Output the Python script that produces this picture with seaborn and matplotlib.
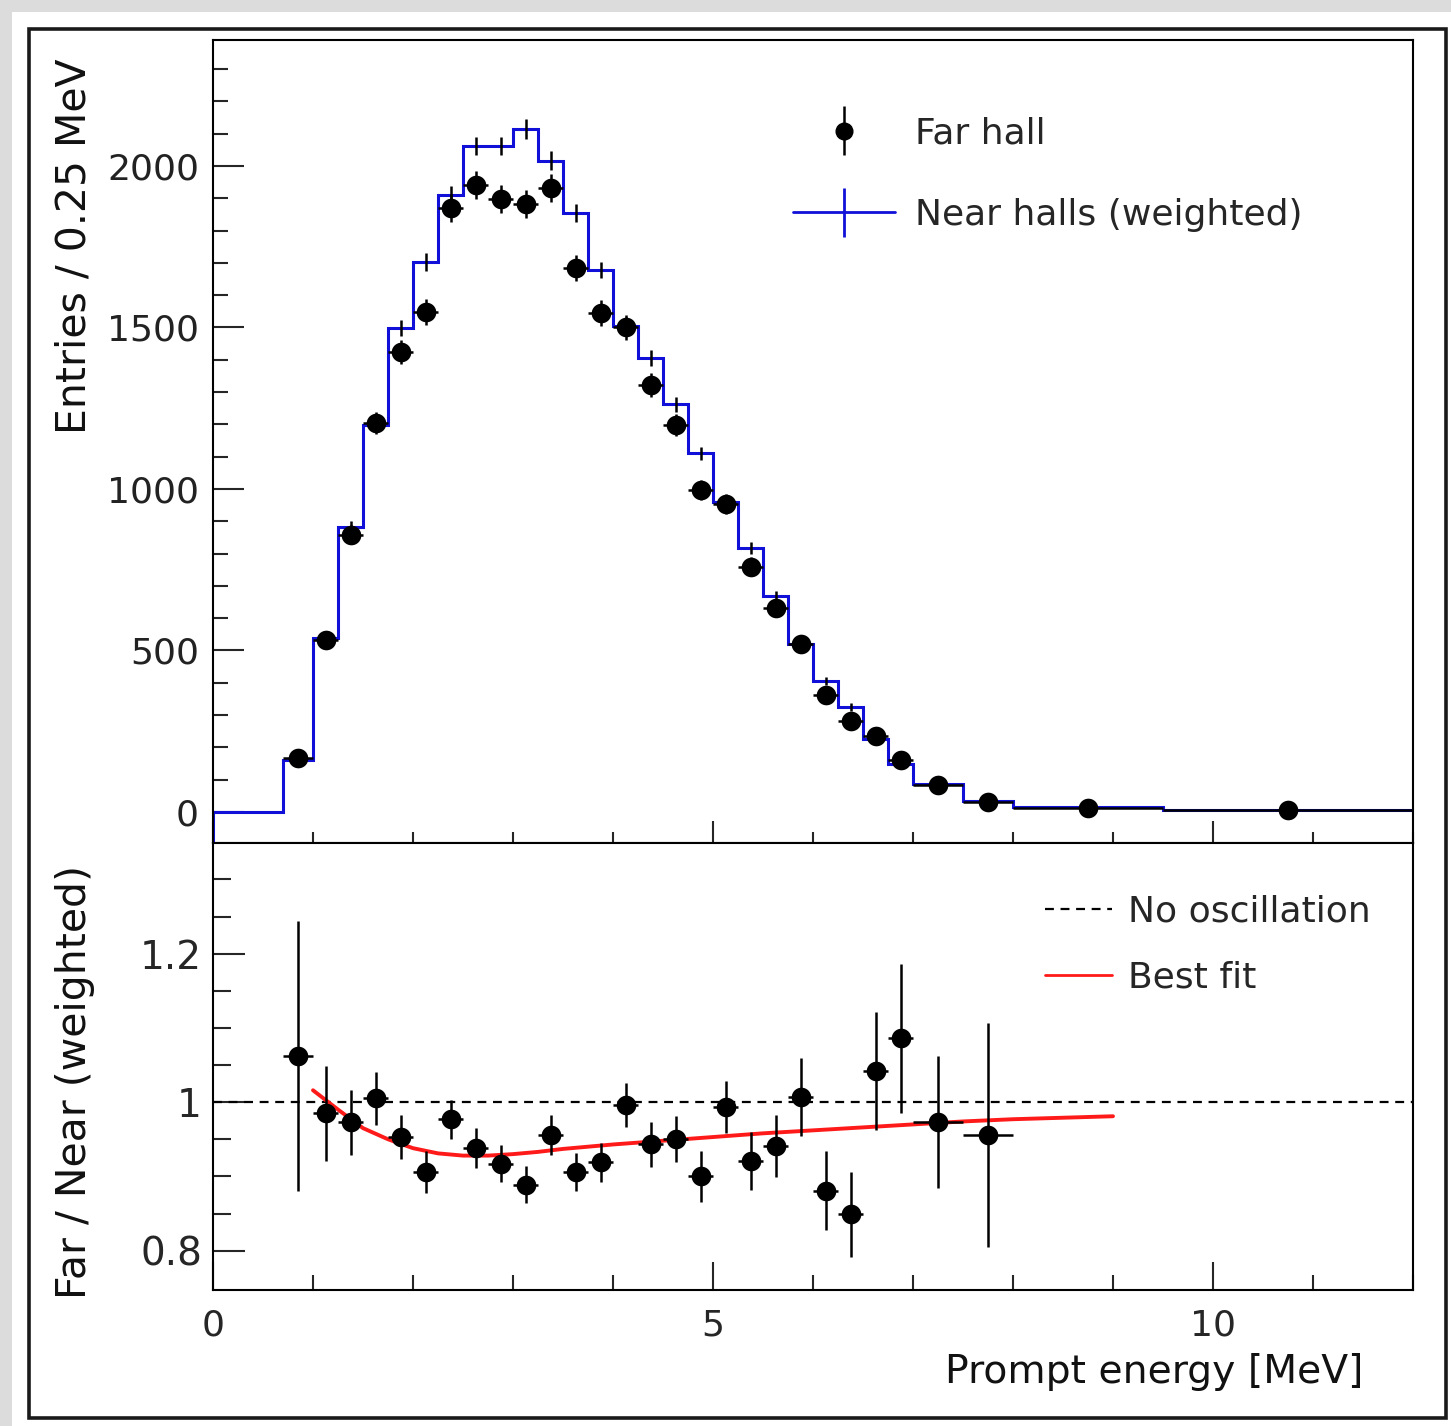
import numpy as np
import pandas as pd
import matplotlib
matplotlib.use("Agg")
import matplotlib.pyplot as plt
import seaborn as sns
from matplotlib.patches import Rectangle
from matplotlib.legend_handler import HandlerErrorbar
from matplotlib.lines import Line2D

# ---------------- data ----------------
bin_edges = [0.0, 0.7, 1.0, 1.25, 1.5, 1.75, 2.0, 2.25, 2.5, 2.75, 3.0, 3.25, 3.5,
             3.75, 4.0, 4.25, 4.5, 4.75, 5.0, 5.25, 5.5, 5.75, 6.0, 6.25, 6.5, 6.75,
             7.0, 7.5, 8.0, 9.5, 12.0]

near_counts = [0, 161, 539, 882, 1198, 1498, 1703, 1910, 2062, 2062, 2115, 2016, 1855,
               1678, 1506, 1405, 1262, 1110, 960, 817, 669, 520, 406, 325, 226, 148,
               87, 33, 14, 5]
near_err = [0, 9, 15, 19, 22, 25, 27, 28, 29, 29, 30, 29, 28, 26, 25, 24, 23, 21, 20,
            18, 16, 14, 13, 11, 10, 8, 6, 4, 2, 1]

far_counts = [167, 532, 858, 1204, 1424, 1548, 1870, 1941, 1898, 1882, 1932, 1684,
              1545, 1500, 1322, 1198, 997, 954, 760, 630, 521, 362, 282, 235, 161,
              85, 31, 12, 5]
far_err = [13, 23, 29, 35, 38, 39, 43, 44, 44, 43, 44, 41, 39, 39, 36, 35, 32, 31,
           28, 25, 23, 19, 17, 15, 13, 9, 6, 3, 2]

ratio = [1.062, 0.985, 0.973, 1.005, 0.953, 0.906, 0.977, 0.938, 0.917, 0.889, 0.956,
         0.906, 0.919, 0.996, 0.943, 0.951, 0.900, 0.993, 0.921, 0.941, 1.007, 0.881,
         0.849, 1.042, 1.086, 0.973, 0.956]
ratio_err = [0.182, 0.064, 0.044, 0.036, 0.030, 0.028, 0.026, 0.027, 0.025, 0.025,
             0.027, 0.026, 0.026, 0.030, 0.030, 0.031, 0.034, 0.035, 0.039, 0.042,
             0.052, 0.053, 0.057, 0.079, 0.100, 0.089, 0.151]

fit_x = [1.0, 1.25, 1.5, 1.75, 2.0, 2.25, 2.5, 2.75, 3.0, 3.25, 3.5, 3.75, 4.0, 4.5,
         5.0, 5.5, 6.0, 6.5, 7.0, 7.5, 8.0, 8.5, 9.0]
fit_y = [1.016, 0.990, 0.965, 0.950, 0.938, 0.931, 0.928, 0.928, 0.930, 0.933, 0.937,
         0.940, 0.943, 0.948, 0.953, 0.958, 0.962, 0.966, 0.970, 0.974, 0.977, 0.979,
         0.981]

top_yticks = [0, 500, 1000, 1500, 2000]
bot_yticks = [0.8, 1.0, 1.2]
bot_yticklabels = ["0.8", "1", "1.2"]
xticks = [0, 5, 10]

# ---------------- derived ----------------
edges = np.array(bin_edges)
centers = 0.5 * (edges[:-1] + edges[1:])
halfw = 0.5 * (edges[1:] - edges[:-1])
far_x = centers[1:]
far_xerr = halfw[1:]
n_ratio = len(ratio)
ratio_x = centers[1:1 + n_ratio]
ratio_xerr = halfw[1:1 + n_ratio]

far_df = pd.DataFrame({"energy": far_x, "entries": far_counts})
ratio_df = pd.DataFrame({"energy": ratio_x, "ratio": ratio})
fit_df = pd.DataFrame({"energy": fit_x, "ratio": fit_y})

# ---------------- style ----------------
sns.set_theme(style="ticks")
plt.rcParams["font.family"] = ["DejaVu Sans"]
plt.rcParams["axes.linewidth"] = 1.5

BLUE = "#1010d8"
RED = "#ff1a1a"
W, H = 1451, 1426
fig = plt.figure(figsize=(W / 100, H / 100), dpi=100)
fig.patch.set_facecolor("white")

def fx(px):
    return px / W

def fy(py):
    return 1 - py / H

ax1 = fig.add_axes([fx(213), fy(843), fx(1413) - fx(213), fy(40) - fy(843)])
ax2 = fig.add_axes([fx(213), fy(1290), fx(1413) - fx(213), fy(843) - fy(1290)])

# ---------------- top panel ----------------
ymin_top, ymax_top = -96, 2390
ax1.stairs(near_counts, edges, color=BLUE, lw=2.2, baseline=None, zorder=2)
ax1.vlines(edges[0], ymin_top, near_counts[0], color=BLUE, lw=2.2, zorder=2)
ax1.errorbar(centers[1:], near_counts[1:], yerr=near_err[1:], fmt="none",
             ecolor="black", elinewidth=1.8, capsize=0, zorder=3)
ax1.errorbar(far_x, far_counts, xerr=far_xerr, yerr=far_err, fmt="none",
             ecolor="black", elinewidth=1.8, capsize=0, zorder=4)
sns.scatterplot(data=far_df, x="energy", y="entries", ax=ax1, color="black",
                s=200, edgecolor="black", linewidth=0, zorder=5, legend=False)

ax1.set_xlim(0, 12)
ax1.set_ylim(ymin_top, ymax_top)
ax1.set_yticks(top_yticks)
ax1.set_yticks(np.arange(0, 2400, 100), minor=True)
ax1.set_xticks(xticks)
ax1.set_xticks(np.arange(0, 13, 1), minor=True)
ax1.tick_params(axis="x", which="major", direction="in", length=16, width=1.5,
                labelbottom=False)
ax1.tick_params(axis="x", which="minor", direction="in", length=8, width=1.5)
ax1.tick_params(axis="y", which="major", direction="in", length=22, width=1.5,
                labelsize=26, pad=10, labelcolor="#222222")
ax1.tick_params(axis="y", which="minor", direction="in", length=11, width=1.5)
ax1.set_xlabel("")
ax1.set_ylabel("")

# legend for top panel
far_proxy = ax1.errorbar([np.nan], [np.nan], yerr=[1], fmt="o", color="black",
                         markersize=12, elinewidth=1.8, capsize=0)
near_proxy = ax1.errorbar([np.nan], [np.nan], yerr=[1], fmt="-", color=BLUE,
                          lw=2.0, elinewidth=2.0, capsize=0)
leg1 = ax1.legend([far_proxy, near_proxy], ["Far hall", "Near halls (weighted)"],
                  loc="upper left", bbox_to_anchor=(0.483, 0.905), frameon=False,
                  fontsize=26, handlelength=2.83, handletextpad=0.55,
                  labelspacing=1.32, borderpad=0, borderaxespad=0,
                  handler_map={type(far_proxy): HandlerErrorbar(yerr_size=0.68)})

# ---------------- bottom panel ----------------
ax2.axhline(1.0, color="black", lw=1.6, ls=(0, (4, 3)), zorder=1)
sns.lineplot(data=fit_df, x="energy", y="ratio", ax=ax2, color=RED, lw=2.8,
             zorder=2, legend=False)
ax2.errorbar(ratio_x, ratio, xerr=ratio_xerr, yerr=ratio_err, fmt="none",
             ecolor="black", elinewidth=1.8, capsize=0, zorder=3)
sns.scatterplot(data=ratio_df, x="energy", y="ratio", ax=ax2, color="black",
                s=200, linewidth=0, zorder=4, legend=False)

ax2.set_xlim(0, 12)
ax2.set_ylim(0.747, 1.349)
ax2.set_yticks(bot_yticks)
ax2.set_yticklabels(bot_yticklabels)
ax2.set_yticks(np.arange(0.8, 1.35, 0.05), minor=True)
ax2.set_xticks(xticks)
ax2.set_xticklabels([str(v) for v in xticks])
ax2.set_xticks(np.arange(0, 13, 1), minor=True)
ax2.tick_params(axis="x", which="major", direction="in", length=20, width=1.5,
                labelsize=26, pad=13)
ax2.tick_params(axis="x", which="minor", direction="in", length=11, width=1.5)
ax2.tick_params(axis="y", which="major", direction="in", length=23, width=1.5,
                labelsize=28, pad=8)
ax2.tick_params(axis="y", which="minor", direction="in", length=13, width=1.5)
ax2.set_xlabel("")
ax2.set_ylabel("")

leg2 = ax2.legend([Line2D([], [], color="black", lw=1.6, ls=(0, (4, 3))),
                   Line2D([], [], color=RED, lw=2.0)],
                  ["No oscillation", "Best fit"], loc="upper left",
                  bbox_to_anchor=(0.693, 0.885), frameon=False, fontsize=26,
                  handlelength=1.88, handletextpad=0.42, labelspacing=0.89,
                  borderpad=0, borderaxespad=0)

for ax in (ax1, ax2):
    for s in ax.spines.values():
        s.set_visible(True)
        s.set_linewidth(1.5)
        s.set_color("black")

# ---------------- axis titles ----------------
fig.text(fx(75), fy(58), "Entries / 0.25 MeV", rotation=90, ha="center", va="top",
         fontsize=29.5, color="#111111")
fig.text(fx(75), fy(1082), "Far / Near (weighted)", rotation=90, ha="center",
         va="center", fontsize=29.5, color="#111111")
fig.text(fx(1363), fy(1372), "Prompt energy [MeV]", ha="right", va="center",
         fontsize=28.3, color="#111111")

# ---------------- canvas frame (screenshot look) ----------------
fig.patches.append(Rectangle((0, fy(12)), 1, 1 - fy(12), transform=fig.transFigure,
                             facecolor="#dcdcdc", edgecolor="none", zorder=-5))
fig.patches.append(Rectangle((0, 0), fx(12), 1, transform=fig.transFigure,
                             facecolor="#dcdcdc", edgecolor="none", zorder=-5))
fig.patches.append(Rectangle((fx(29), fy(1418)), fx(1446) - fx(29), fy(29) - fy(1418),
                             transform=fig.transFigure, facecolor="none",
                             edgecolor="#1a1a1a", lw=2.6, zorder=10))

fig.savefig("out.png", dpi=100, facecolor="white")
